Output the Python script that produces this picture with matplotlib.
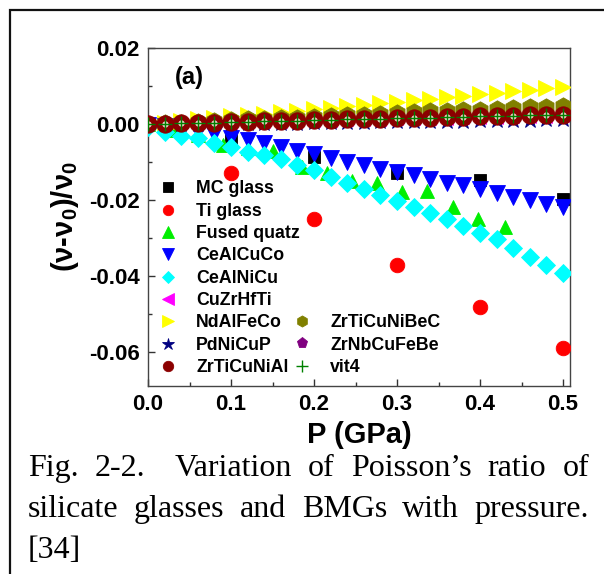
import matplotlib
matplotlib.use('Agg')
import matplotlib.pyplot as plt
from matplotlib.ticker import MultipleLocator, FormatStrFormatter
from matplotlib.patches import Rectangle
from matplotlib.lines import Line2D

plt.rcParams['font.family'] = ['Liberation Sans', 'DejaVu Sans']
plt.rcParams['font.weight'] = 'bold'
plt.rcParams['mathtext.fontset'] = 'custom'
plt.rcParams['mathtext.rm'] = 'Liberation Sans:bold'
plt.rcParams['mathtext.it'] = 'Liberation Sans:bold'
plt.rcParams['mathtext.bf'] = 'Liberation Sans:bold'
plt.rcParams['mathtext.default'] = 'rm'

# ---------------- data ----------------
P_grid = [0.00, 0.02, 0.04, 0.06, 0.08, 0.10, 0.12, 0.14, 0.16, 0.18, 0.20, 0.22, 0.24,
          0.26, 0.28, 0.30, 0.32, 0.34, 0.36, 0.38, 0.40, 0.42, 0.44, 0.46, 0.48, 0.50]

P_mc = [0.0, 0.1, 0.2, 0.3, 0.4, 0.5]
mc_glass = [0.0, -0.0040, -0.0088, -0.0128, -0.0147, -0.0198]

P_ti = [0.0, 0.1, 0.2, 0.3, 0.4, 0.5]
ti_glass = [0.0, -0.0129, -0.0250, -0.0371, -0.0482, -0.0590]

P_fq = [0.0, 0.03, 0.06, 0.09, 0.12, 0.15, 0.186, 0.216, 0.246, 0.276, 0.306, 0.336, 0.367, 0.398, 0.43]
fused_quatz = [0.0, -0.0015, -0.0030, -0.0055, -0.0062, -0.0070, -0.0113, -0.0128, -0.0150,
               -0.0155, -0.0180, -0.0175, -0.0217, -0.0250, -0.0272]

ce_al_cu_co = [-0.0002, -0.0006, -0.0011, -0.0017, -0.0027, -0.0036, -0.0043, -0.0051, -0.0060,
               -0.0070, -0.0080, -0.0090, -0.0100, -0.0108, -0.0118, -0.0126, -0.0133, -0.0145,
               -0.0154, -0.0161, -0.0171, -0.0182, -0.0191, -0.0201, -0.0210, -0.0219]

ce_al_ni_cu = [-0.0008, -0.0022, -0.0032, -0.0038, -0.0050, -0.0060, -0.0073, -0.0082, -0.0092,
               -0.0108, -0.0122, -0.0138, -0.0155, -0.0171, -0.0187, -0.0203, -0.0218, -0.0234,
               -0.0250, -0.0268, -0.0286, -0.0303, -0.0325, -0.0350, -0.0372, -0.0392]

cu_zr_hf_ti = [0.0000, 0.0001, 0.0002, 0.0002, 0.0003, 0.0004, 0.0005, 0.0006, 0.0006, 0.0007,
               0.0008, 0.0009, 0.0010, 0.0010, 0.0011, 0.0012, 0.0013, 0.0014, 0.0014, 0.0015,
               0.0016, 0.0017, 0.0018, 0.0018, 0.0019, 0.0020]

nd_al_fe_co = [0.0000, 0.0004, 0.0008, 0.0012, 0.0016, 0.0020, 0.0024, 0.0027, 0.0031, 0.0035,
               0.0039, 0.0043, 0.0047, 0.0051, 0.0055, 0.0059, 0.0063, 0.0067, 0.0071, 0.0074,
               0.0078, 0.0082, 0.0086, 0.0090, 0.0094, 0.0098]

pd_ni_cu_p = [0.0000, 0.0000, 0.0001, 0.0001, 0.0002, 0.0002, 0.0003, 0.0003, 0.0004, 0.0004,
              0.0005, 0.0005, 0.0006, 0.0006, 0.0007, 0.0007, 0.0008, 0.0008, 0.0009, 0.0009,
              0.0010, 0.0010, 0.0011, 0.0011, 0.0012, 0.0012]

zr_ti_cu_ni_al = [0.0000, 0.0001, 0.0002, 0.0003, 0.0004, 0.0005, 0.0006, 0.0007, 0.0008, 0.0009,
                  0.0010, 0.0011, 0.0012, 0.0013, 0.0014, 0.0015, 0.0016, 0.0017, 0.0018, 0.0019,
                  0.0020, 0.0021, 0.0022, 0.0023, 0.0024, 0.0025]

zr_ti_cu_ni_be_c = [0.0000, 0.0002, 0.0004, 0.0006, 0.0008, 0.0010, 0.0012, 0.0013, 0.0015, 0.0017,
                    0.0019, 0.0021, 0.0023, 0.0025, 0.0027, 0.0029, 0.0031, 0.0033, 0.0034, 0.0036,
                    0.0038, 0.0040, 0.0042, 0.0044, 0.0046, 0.0048]

zr_nb_cu_fe_be = [0.0000, 0.0001, 0.0002, 0.0003, 0.0004, 0.0004, 0.0005, 0.0006, 0.0007, 0.0008,
                  0.0009, 0.0010, 0.0011, 0.0011, 0.0012, 0.0013, 0.0014, 0.0015, 0.0016, 0.0017,
                  0.0018, 0.0018, 0.0019, 0.0020, 0.0021, 0.0022]

vit4 = [0.0000, 0.0001, 0.0002, 0.0003, 0.0004, 0.0005, 0.0006, 0.0007, 0.0008, 0.0009,
        0.0010, 0.0011, 0.0012, 0.0013, 0.0014, 0.0015, 0.0016, 0.0017, 0.0018, 0.0019,
        0.0020, 0.0021, 0.0022, 0.0023, 0.0024, 0.0025]

x_ticks = [0.0, 0.1, 0.2, 0.3, 0.4, 0.5]
y_ticks = [0.02, 0.00, -0.02, -0.04, -0.06]

caption_lines = ["Fig. 2-2.  Variation of Poisson\u2019s ratio of",
                 "silicate glasses and BMGs with pressure.",
                 "[34]"]

# ---------------- figure ----------------
W, H = 604, 574
fig = plt.figure(figsize=(W / 100, H / 100), dpi=100)
fig.patch.set_facecolor('white')

# outer frame (left and top visible)
fig.patches.append(Rectangle((10 / W, -0.05), 1.2, 1 - 10 / H + 0.05, transform=fig.transFigure,
                             fill=False, edgecolor='#111111', linewidth=1.6))

ax = fig.add_axes([148 / W, 1 - 386 / H, 422 / W, 338 / H])

series = [
    (P_mc, mc_glass, 'MC glass', dict(marker='s', color='black', ms=8, z=3, lms=6.5)),
    (P_ti, ti_glass, 'Ti glass', dict(marker='o', color='#FF0000', ms=10.5, z=3, lms=7.5)),
    (P_fq, fused_quatz, 'Fused quatz', dict(marker='^', color='#00EE00', ms=10.5, z=3, lms=8)),
    (P_grid, ce_al_cu_co, 'CeAlCuCo', dict(marker='v', color='#0000FF', ms=11.5, z=4, lms=8)),
    (P_grid, ce_al_ni_cu, 'CeAlNiCu', dict(marker='D', color='#00FFFF', ms=9.5, z=5, lms=6.5)),
    (P_grid, cu_zr_hf_ti, 'CuZrHfTi', dict(marker='<', color='#FF00FF', ms=8, z=3, lms=8)),
    (P_grid, nd_al_fe_co, 'NdAlFeCo', dict(marker='>', color='#FFFF00', ms=12, z=3, lms=8)),
    (P_grid, pd_ni_cu_p, 'PdNiCuP', dict(marker='*', color='#000080', ms=13, z=5, lms=9)),
    (P_grid, zr_ti_cu_ni_al, 'ZrTiCuNiAl', dict(marker='o', color='#8B0000', ms=12.5, z=7, lms=7.5)),
    (P_grid, zr_ti_cu_ni_be_c, 'ZrTiCuNiBeC', dict(marker='h', color='#808000', ms=12.5, z=4.5, lms=8)),
    (P_grid, zr_nb_cu_fe_be, 'ZrNbCuFeBe', dict(marker='p', color='#800080', ms=10, z=5, lms=8)),
    (P_grid, vit4, 'vit4', dict(marker='+', color='#008000', ms=10, z=8, lms=8)),
]

proxies = {}
for xs, ys, name, st in series:
    if st['marker'] == '+':
        ax.plot(xs, ys, linestyle='none', marker='+', color=st['color'], ms=st['ms'],
                mew=1.0, zorder=st['z'], label=name)
        proxies[name] = Line2D([], [], linestyle='none', marker='+', color=st['color'],
                               ms=st['lms'], mew=1.0)
    else:
        ax.plot(xs, ys, linestyle='none', marker=st['marker'], color=st['color'],
                markeredgecolor=st['color'], ms=st['ms'], mew=0.6, zorder=st['z'], label=name)
        proxies[name] = Line2D([], [], linestyle='none', marker=st['marker'], color=st['color'],
                               markeredgecolor=st['color'], ms=st['lms'], mew=0.6)

# sphere highlight
ax.plot(P_grid, zr_ti_cu_ni_al, linestyle='none', marker='o', color='#E8D8C8',
        markeredgecolor='#E8D8C8', ms=3.5, zorder=7.5)

ax.set_xlim(0.0, 0.5084)
ax.set_ylim(-0.0689, 0.02)
ax.set_xticks(x_ticks)
ax.set_yticks(y_ticks)
ax.xaxis.set_minor_locator(MultipleLocator(0.05))
ax.yaxis.set_minor_locator(MultipleLocator(0.01))
ax.xaxis.set_major_formatter(FormatStrFormatter('%.1f'))
ax.yaxis.set_major_formatter(FormatStrFormatter('%.2f'))
ax.tick_params(which='both', direction='in', top=False, right=False, color='#333333', width=1)
ax.tick_params(which='major', length=5, labelsize=16, pad=6)
ax.tick_params(which='minor', length=3)
for lab in ax.get_xticklabels() + ax.get_yticklabels():
    lab.set_fontweight('bold')
for sp in ax.spines.values():
    sp.set_color('#444444')
    sp.set_linewidth(1.0)

ax.set_xlabel('P (GPa)', fontsize=21, fontweight='bold', labelpad=4)
ax.set_ylabel('(\u03bd-\u03bd$_0$)/\u03bd$_0$', fontsize=21, fontweight='bold', labelpad=6)

ax.text(0.064, 0.912, '(a)', transform=ax.transAxes, fontsize=17, fontweight='bold',
        ha='left', va='center')

col1 = ['MC glass', 'Ti glass', 'Fused quatz', 'CeAlCuCo', 'CeAlNiCu', 'CuZrHfTi',
        'NdAlFeCo', 'PdNiCuP', 'ZrTiCuNiAl']
col2 = ['ZrTiCuNiBeC', 'ZrNbCuFeBe', 'vit4']
row_h = 22.3
leg_kw = dict(frameon=False, fontsize=12.8, borderpad=0, handlelength=1.0, handletextpad=1.1,
              labelspacing=0.30, borderaxespad=0, numpoints=1)
top1 = 0.623 - 5 / 338
leg1 = ax.legend([proxies[n] for n in col1], col1, loc='upper left',
                 bbox_to_anchor=(0.026, top1), **leg_kw)
ax.add_artist(leg1)
leg2 = ax.legend([proxies[n] for n in col2], col2, loc='upper left',
                 bbox_to_anchor=(0.343, top1 - 6 * row_h / 338), **leg_kw)

# caption, justified
fig.canvas.draw()
renderer = fig.canvas.get_renderer()
cap_kw = dict(family=['Liberation Serif', 'DejaVu Serif'], fontweight='normal', fontsize=23,
              va='baseline', ha='left', color='black')
baselines = [476, 517, 558]
x_left, x_right = 28, 589
for i, line in enumerate(caption_lines):
    ypos = 1 - baselines[i] / H
    words = line.replace('  ', ' \u0000 ').split(' ')
    weights = []
    clean = []
    for w in words:
        if w == '\u0000':
            if weights:
                weights[-1] += 0.8
            continue
        clean.append(w)
        weights.append(1.0)
    texts = [fig.text(0, ypos, w, **cap_kw) for w in clean]
    widths = [t.get_window_extent(renderer).width for t in texts]
    if i < len(caption_lines) - 1 and len(texts) > 1:
        gap = (x_right - x_left - sum(widths)) / sum(weights[:-1])
    else:
        gap = 6
    x = x_left
    for t, wd, wt in zip(texts, widths, weights):
        t.set_x(x / W)
        x += wd + gap * wt

fig.savefig('out.png', dpi=100, facecolor='white')
